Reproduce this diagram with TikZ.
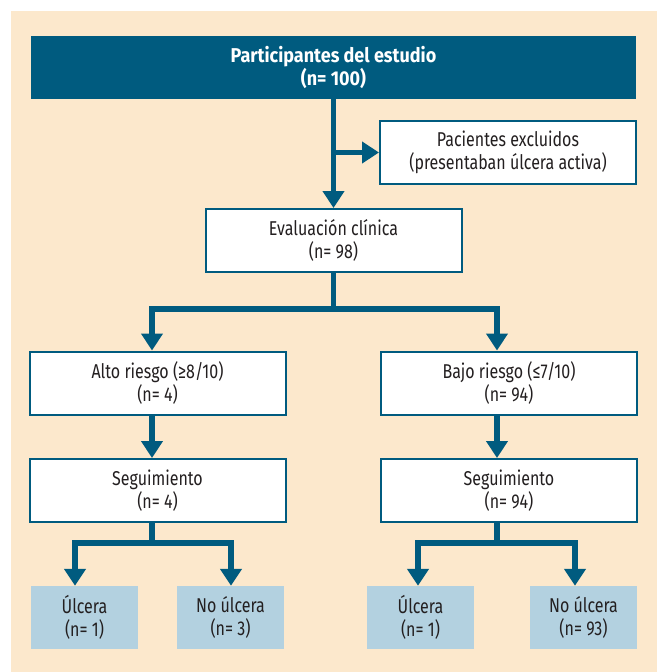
\documentclass[tikz,border=0pt]{standalone}
\usepackage{fontspec}
\setmainfont{Fira Sans}[FakeStretch=0.8, BoldFeatures={FakeStretch=0.9}]
\usetikzlibrary{arrows.meta}
\definecolor{mainblue}{HTML}{005B7F}
\definecolor{bgpeach}{HTML}{FCE8CC}
\definecolor{lightblue}{HTML}{B3D1E0}
\definecolor{txt}{HTML}{231F20}
\tikzset{
  box/.style={draw=mainblue, line width=2pt, fill=white, minimum width=256pt, minimum height=63pt,
    align=center, text=txt, font=\fontsize{20}{22.5}\selectfont, inner sep=0pt},
  topbox/.style={fill=mainblue, minimum width=605pt, minimum height=63pt, align=center,
    text=white, font=\fontsize{20}{22.5}\selectfont\bfseries, inner sep=0pt},
  leaf/.style={fill=lightblue, minimum width=107pt, minimum height=63pt, align=center,
    text=txt, font=\fontsize{20}{22.5}\selectfont, inner sep=0pt},
  conn/.style={draw=mainblue, line width=5.5pt, line join=miter},
  arr/.style={conn, -{Triangle[width=21pt,length=17pt]}},
}
\begin{document}
\begin{tikzpicture}[x=1pt,y=-1pt]
\useasboundingbox (0,0) rectangle (657,672);
\fill[bgpeach] (11,11) rectangle (657,672);

\node[topbox] (top) at (333.5,67.5) {Participantes del estudio\\(n= 100)};
\node[box] (excl) at (508,152.5) {Pacientes excluidos\\(presentaban úlcera activa)};
\node[box] (eval) at (333.5,240.5) {Evaluación clínica\\(n= 98)};
\node[box] (alto) at (157.5,383) {Alto riesgo (≥8/10)\\(n= 4)};
\node[box] (bajo) at (509,383) {Bajo riesgo (≤7/10)\\(n= 94)};
\node[box] (segA) at (157.5,490.5) {Seguimiento\\(n= 4)};
\node[box] (segB) at (509,490.5) {Seguimiento\\(n= 94)};
\node[leaf] (ulA) at (84.5,617.5) {Úlcera\\(n= 1)};
\node[leaf] (noA) at (230.5,617.5) {No úlcera\\(n= 3)};
\node[leaf] (ulB) at (420.5,617.5) {Úlcera\\(n= 1)};
\node[leaf] (noB) at (583.5,617.5) {No úlcera\\(n= 93)};

% coordinates for branch points
\coordinate (ex) at (333.5,152.5);
\coordinate (b1) at (333.5,309);
\coordinate (xA) at (152,0);
\coordinate (xB) at (497,0);
\coordinate (bA) at (152,543);
\coordinate (bB) at (497,543);
\coordinate (xAl) at (75,0);
\coordinate (xAr) at (231,0);
\coordinate (xBl) at (418,0);
\coordinate (xBr) at (575,0);

\draw[arr] (top.south) -- (eval.north);
\draw[arr] (ex) -- (excl.west);
\draw[conn] (eval.south) -- (b1);
\draw[arr] (b1) -| (alto.north -| xA);
\draw[arr] (b1) -| (bajo.north -| xB);
\draw[arr] (alto.south -| xA) -- (segA.north -| xA);
\draw[arr] (bajo.south -| xB) -- (segB.north -| xB);
\draw[conn] (segA.south -| xA) -- (bA);
\draw[conn] (segB.south -| xB) -- (bB);
\draw[arr] (bA) -| (ulA.north -| xAl);
\draw[arr] (bA) -| (noA.north -| xAr);
\draw[arr] (bB) -| (ulB.north -| xBl);
\draw[arr] (bB) -| (noB.north -| xBr);
\end{tikzpicture}
\end{document}
